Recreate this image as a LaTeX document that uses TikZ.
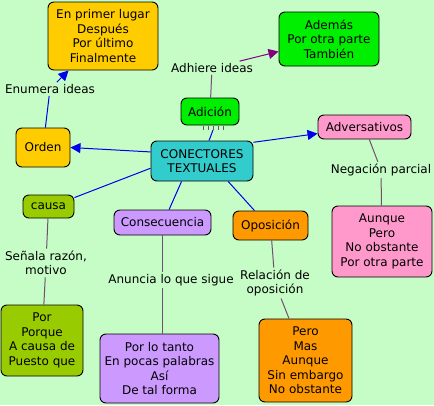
\documentclass[tikz,border=0pt]{standalone}
\usepackage{fontspec}
\setmainfont{DejaVu Sans}
\usetikzlibrary{arrows.meta,calc}
\definecolor{bg}{RGB}{198,252,198}
\definecolor{corange}{HTML}{FFCC00}
\definecolor{cgreen}{HTML}{00EE00}
\definecolor{cteal}{HTML}{33CCCC}
\definecolor{cpink}{HTML}{FF99CC}
\definecolor{colive}{HTML}{99CC00}
\definecolor{clav}{HTML}{CC99FF}
\definecolor{corange2}{HTML}{FF9900}
\definecolor{cblue}{HTML}{0000EE}
\definecolor{cgray}{HTML}{705070}
\definecolor{cpurple}{HTML}{800080}
\begin{document}
\begin{tikzpicture}[x=1pt,y=-1pt,
  every node/.style={font=\fontsize{12}{14.5}\selectfont, inner sep=0pt, align=center},
  box/.style={draw=black, line width=0.9pt, rounded corners=6pt},
  lbl/.style={inner sep=2pt},
  blueline/.style={draw=cblue, line width=1pt},
  grayline/.style={draw=cgray, line width=1pt},
  tip/.style={-{Triangle[length=10pt,width=10pt]}}
]
\useasboundingbox[fill=bg] (0,0) rectangle (434,405);

\node[box, fill=corange, minimum width=110pt, minimum height=68pt] (primer) at (103,36) {En primer lugar\\Después\\Por último\\Finalmente};
\node[box, fill=cgreen, minimum width=100pt, minimum height=54pt] (ademas) at (329,39) {Además\\Por otra parte\\También};
\node[box, fill=cgreen, minimum width=58pt, minimum height=27pt] (adicion) at (210,111.5) {Adición};
\node[box, fill=corange, minimum width=54pt, minimum height=39pt] (orden) at (43,147.5) {Orden};
\node[box, fill=cteal, minimum width=102pt, minimum height=40pt] (conn) at (202,161) {CONECTORES\\TEXTUALES};
\node[box, fill=cpink, minimum width=93pt, minimum height=24pt] (adv) at (364.5,127) {Adversativos};
\node[box, fill=colive, minimum width=51pt, minimum height=23pt] (causa) at (48.5,206.5) {causa};
\node[box, fill=clav, minimum width=97pt, minimum height=25pt] (cons) at (162.5,222.5) {Consecuencia};
\node[box, fill=corange2, minimum width=75pt, minimum height=29pt] (opos) at (270.5,225.5) {Oposición};
\node[box, fill=cpink, minimum width=100pt, minimum height=71pt] (aunque) at (382,241.5) {Aunque\\Pero\\No obstante\\Por otra parte};
\node[box, fill=colive, minimum width=82pt, minimum height=71pt] (por) at (42,340.5) {Por\\Porque\\A causa de\\Puesto que};
\node[box, fill=clav, minimum width=119pt, minimum height=69pt] (porlo) at (159.5,368.5) {Por lo tanto\\En pocas palabras\\Así\\De tal forma};
\node[box, fill=corange2, minimum width=93pt, minimum height=83pt] (pero) at (305.5,360.5) {Pero\\Mas\\Aunque\\Sin embargo\\No obstante};

\node[lbl] (enum) at (50,89) {Enumera ideas};
\node[lbl] (adh) at (212,68) {Adhiere ideas};
\node[lbl] (neg) at (381,170) {Negación parcial};
\node[lbl] (senala) at (46,263) {Señala razón,\\motivo};
\node[lbl] (anun) at (171,280) {Anuncia lo que sigue};
\node[lbl] (rel) at (275,283) {Relación de\\oposición};

% small ticks under Adición
\foreach \tx in {203,208,213,218,223} \draw[cgray, line width=0.8pt] (\tx,126) -- (\tx,130);
\coordinate (adicb) at (213,130);

% blue connectors
\draw[blueline, tip] (conn.170) -- (orden.east);
\draw[blueline] (orden) -- (enum);
\draw[blueline, tip] (enum) -- (primer);
\draw[blueline] (adicb) -- (conn.71);
\draw[blueline, tip] (conn.20) -- (adv.188);
\draw[blueline] (conn.188) -- (causa.19);
\draw[blueline] (conn.225) -- (cons.63);
\draw[blueline] (conn.322) -- (opos.137);

% gray connectors
\draw[grayline] (adicion) -- (adh);
\draw[draw=cpurple, line width=1pt, tip] (adh) -- (ademas);
\draw[grayline] (adv) -- (neg);
\draw[grayline] (neg) -- (aunque);
\draw[grayline] (causa) -- (senala);
\draw[grayline] (senala) -- (por);
\draw[grayline] (cons) -- (cons |- anun.north);
\draw[grayline] (cons |- anun.south) -- (cons |- porlo.north);
\draw[grayline] (opos) -- (rel);
\draw[grayline] (rel) -- (pero);
\end{tikzpicture}
\end{document}
